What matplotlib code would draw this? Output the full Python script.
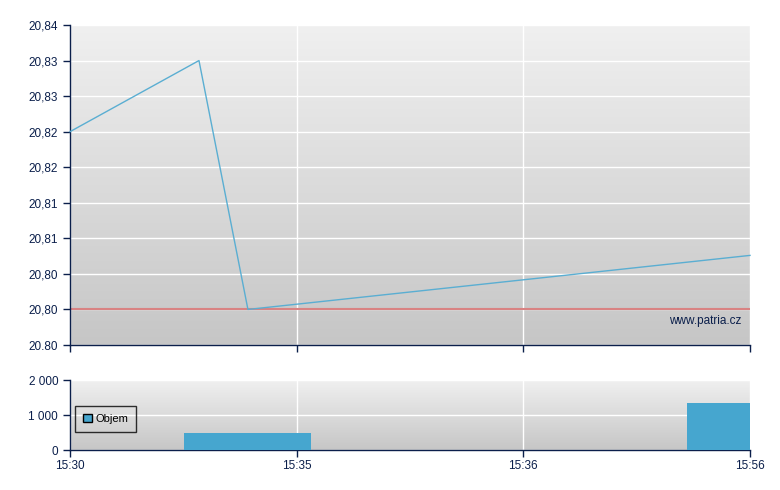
import numpy as np
import matplotlib
matplotlib.use("Agg")
import matplotlib.pyplot as plt
from matplotlib.ticker import FixedLocator, FixedFormatter
from matplotlib.patches import Patch
from matplotlib.colors import LinearSegmentedColormap

# ---- data ----
tick_labels_x = ["15:30", "15:35", "15:36", "15:56"]
tick_pos_x = [0, 1, 2, 3]
price_pos = [0.0, 0.569, 0.785, 3.0]
price_vals = [20.825, 20.835, 20.800, 20.8076]
ref_price = 20.800
vol_pos = [0.785, 3.0]
vol_vals = [490, 1350]
bar_width = 0.56
price_ticks = [20.795, 20.800, 20.805, 20.810, 20.815, 20.820, 20.825, 20.830, 20.835, 20.840]
price_tick_labels = ["20.80", "20,80", "20,80", "20,81", "20,81", "20,82", "20,82", "20,83", "20,83", "20,84"]
vol_ticks = [0, 1000, 2000]
vol_tick_labels = ["0", "1 000", "2 000"]

navy = "#0b1f4b"
plt.rcParams['font.family'] = ['Liberation Sans', 'DejaVu Sans']
plt.rcParams['font.size'] = 8

fig = plt.figure(figsize=(7.8, 4.9), dpi=100)
W, H = 780, 490
ax1 = fig.add_axes([70 / W, 1 - 345 / H, 680 / W, 320 / H])
ax2 = fig.add_axes([70 / W, 1 - 450 / H, 680 / W, 70 / H])

grad = np.linspace(0, 1, 256).reshape(-1, 1)
cmap = LinearSegmentedColormap.from_list("g", ["#c6c6c6", "#f0f0f0"])

for ax in (ax1, ax2):
    ax.set_facecolor("none")
    ax.imshow(grad, aspect="auto", cmap=cmap, origin="lower",
              extent=[0, 1, 0, 1], transform=ax.transAxes, zorder=-10)
    ax.set_xlim(0, 3)
    ax.grid(True, color="white", linewidth=1.0, zorder=0)
    ax.set_axisbelow(True)
    for s in ("top", "right"):
        ax.spines[s].set_visible(False)
    for s in ("left", "bottom"):
        ax.spines[s].set_color(navy)
        ax.spines[s].set_linewidth(1.0)
    ax.tick_params(colors=navy, direction="out", length=5, width=1, labelcolor=navy, labelsize=8.5)
    ax.xaxis.set_major_locator(FixedLocator(tick_pos_x))

# top panel
ax1.set_ylim(price_ticks[0], price_ticks[-1])
ax1.yaxis.set_major_locator(FixedLocator(price_ticks))
ax1.yaxis.set_major_formatter(FixedFormatter(price_tick_labels))
ax1.set_xticklabels([])
ax1.axhline(ref_price, color="#d98383", linewidth=1.5, zorder=2)
ax1.plot(price_pos, price_vals, color="#5aaed2", linewidth=1.0, zorder=3, clip_on=False)
ax1.text(0.988, 0.055, "www.patria.cz", transform=ax1.transAxes, ha="right", va="bottom",
         color=navy, fontsize=8.5)

# bottom panel
ax2.set_ylim(0, 2000)
ax2.yaxis.set_major_locator(FixedLocator(vol_ticks))
ax2.yaxis.set_major_formatter(FixedFormatter(vol_tick_labels))
ax2.xaxis.set_major_formatter(FixedFormatter(tick_labels_x))
ax2.bar(vol_pos, vol_vals, width=bar_width, color="#46a6cf", zorder=3)
ax2.tick_params(axis="x", pad=2)
leg = ax2.legend(handles=[Patch(facecolor="#46a6cf", edgecolor="black", label="Objem")],
                 loc="center left", bbox_to_anchor=(0.0074, 0.443), frameon=True, fancybox=False,
                 handlelength=0.8, handleheight=0.8, handletextpad=0.3, borderpad=0.7,
                 borderaxespad=0, fontsize=8)
leg.get_frame().set_edgecolor("black")
leg.get_frame().set_facecolor("none")
leg.get_frame().set_linewidth(1.0)

fig.savefig("out.png", dpi=100)
